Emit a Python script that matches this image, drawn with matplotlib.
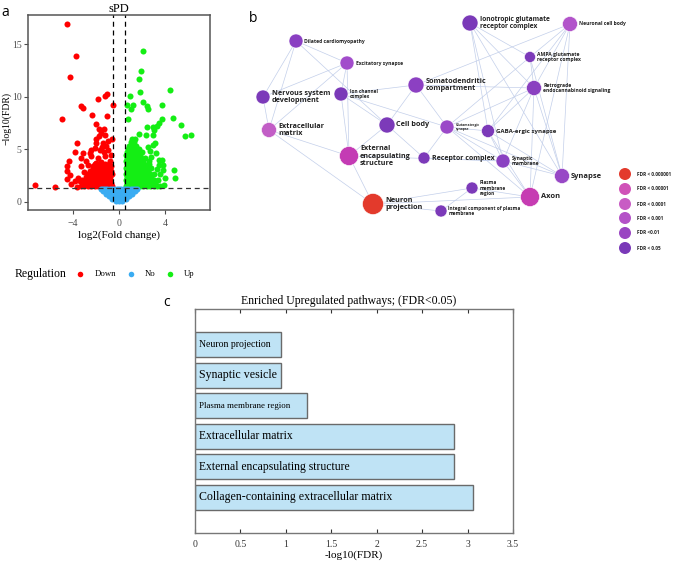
import matplotlib
matplotlib.use("Agg")
import matplotlib.pyplot as plt

W, H = 677, 562

# ---------------- panel a : volcano ----------------
down_pts = [
    (-4.5, 16.95), (-3.77, 13.9), (-4.26, 11.9), (-3.3, 9.15), (-3.15, 8.95),
    (-1.8, 9.8), (-1.22, 10.1), (-1.04, 10.26), (-0.55, 9.2), (-4.93, 7.84),
    (-2.35, 8.22), (-1.04, 8.16), (-2.03, 7.43), (-1.77, 6.92), (-1.3, 6.92),
    (-1.54, 6.54), (-1.74, 6.22), (-1.25, 6.38), (-1.97, 5.97), (-0.96, 5.74),
    (-1.39, 5.59), (-1.97, 5.59), (-3.63, 5.59), (-2.12, 5.11), (-1.68, 4.95),
    (-0.96, 4.95), (-2.55, 4.63), (-3.85, 4.73), (-3.13, 4.63), (-0.67, 4.48),
    (-4.35, 3.9), (-3.28, 4.16), (-2.41, 4.32), (-1.83, 4.16), (-1.25, 4.32),
    (-4.5, 3.37), (-4.5, 2.89), (-4.29, 2.57), (-3.28, 3.37), (-2.7, 3.52),
    (-2.26, 3.37), (-4.5, 2.16), (-3.57, 2.25), (-3.85, 1.93), (-4.2, 1.71),
    (-7.28, 1.62), (-5.54, 1.36), (-3.63, 1.36), (-2.9, 3.9), (-1.5, 5.2),
    (-1.1, 5.3), (-2.4, 4.9), (-0.8, 3.9), (-1.6, 3.8), (-2.0, 3.7),
    (-3.0, 2.8), (-3.4, 2.0), (-0.6, 6.0), (-0.7, 3.4), (-1.3, 4.7),
    (-3.3, 1.45), (-3.0, 1.45), (-2.7, 1.45), (-2.4, 1.45), (-2.1, 1.45),
    (-1.8, 1.45), (-1.5, 1.45), (-1.2, 1.45), (-0.9, 1.45), (-0.6, 1.45),
    (-3.1, 1.75), (-2.8, 1.75), (-2.5, 1.75), (-2.2, 1.75), (-1.9, 1.75),
    (-1.6, 1.75), (-1.3, 1.75), (-1.0, 1.75), (-0.7, 1.75),
    (-3.2, 2.05), (-2.9, 2.05), (-2.6, 2.05), (-2.3, 2.05), (-2.0, 2.05),
    (-1.7, 2.05), (-1.4, 2.05), (-1.1, 2.05), (-0.8, 2.05),
    (-2.9, 2.35), (-2.6, 2.35), (-2.3, 2.35), (-2.0, 2.35), (-1.7, 2.35),
    (-1.4, 2.35), (-1.1, 2.35), (-0.75, 2.35),
    (-2.7, 2.65), (-2.4, 2.65), (-2.1, 2.65), (-1.8, 2.65), (-1.5, 2.65),
    (-1.2, 2.65), (-0.9, 2.65), (-0.6, 2.65),
    (-2.5, 2.95), (-2.2, 2.95), (-1.9, 2.95), (-1.6, 2.95), (-1.3, 2.95),
    (-1.0, 2.95), (-0.7, 2.95),
    (-2.3, 3.25), (-2.0, 3.25), (-1.7, 3.25), (-1.4, 3.25), (-1.1, 3.25),
    (-0.8, 3.25),
    (-2.1, 3.6), (-1.8, 3.6), (-1.5, 3.6), (-1.2, 3.6), (-0.9, 3.6),
]
up_pts = [
    (2.09, 14.35), (1.88, 12.5), (1.74, 11.7), (4.43, 10.6), (1.83, 10.5),
    (0.96, 10.12), (0.67, 9.24), (1.19, 9.17), (1.01, 8.86), (2.12, 9.49),
    (2.4, 9.08), (2.55, 8.86), (3.77, 9.24), (0.81, 7.9), (4.65, 7.97),
    (3.71, 7.9), (3.5, 7.49), (3.27, 7.17), (3.07, 6.79), (2.93, 6.38),
    (5.36, 7.33), (5.74, 6.22), (6.26, 6.31), (2.4, 7.1), (2.99, 7.1),
    (1.77, 6.48), (2.35, 6.38), (2.99, 5.43), (3.13, 5.59), (3.5, 3.94),
    (3.71, 3.94), (3.86, 2.98), (4.78, 3.05), (4.0, 2.25), (4.87, 2.25),
    (3.5, 3.52), (3.8, 3.46), (2.7, 4.8), (2.5, 5.2), (2.8, 4.3),
    (3.2, 4.6), (2.6, 3.9), (3.3, 3.1), (3.6, 2.6), (3.1, 1.9), (3.9, 1.6),
    (0.6, 1.45), (0.9, 1.45), (1.2, 1.45), (1.5, 1.45), (1.8, 1.45),
    (2.1, 1.45), (2.4, 1.45), (2.7, 1.45), (3.0, 1.45), (3.3, 1.45), (3.6, 1.45),
    (0.7, 1.75), (1.0, 1.75), (1.3, 1.75), (1.6, 1.75), (1.9, 1.75),
    (2.2, 1.75), (2.5, 1.75), (2.8, 1.75), (3.1, 1.75),
    (0.6, 2.05), (0.9, 2.05), (1.2, 2.05), (1.5, 2.05), (1.8, 2.05),
    (2.1, 2.05), (2.4, 2.05), (2.7, 2.05), (3.0, 2.05), (3.4, 2.05),
    (0.7, 2.35), (1.0, 2.35), (1.3, 2.35), (1.6, 2.35), (1.9, 2.35),
    (2.2, 2.35), (2.5, 2.35), (2.8, 2.35),
    (0.6, 2.65), (0.9, 2.65), (1.2, 2.65), (1.5, 2.65), (1.8, 2.65),
    (2.1, 2.65), (2.4, 2.65), (2.7, 2.65), (3.0, 2.65),
    (0.7, 2.95), (1.0, 2.95), (1.3, 2.95), (1.6, 2.95), (1.9, 2.95),
    (2.2, 2.95), (2.5, 2.95),
    (0.6, 3.25), (0.9, 3.25), (1.2, 3.25), (1.5, 3.25), (1.8, 3.25),
    (2.1, 3.25), (2.4, 3.25), (2.8, 3.25),
    (0.7, 3.55), (1.0, 3.55), (1.3, 3.55), (1.6, 3.55), (1.9, 3.55),
    (2.2, 3.55), (2.6, 3.55),
    (0.6, 3.85), (0.9, 3.85), (1.2, 3.85), (1.5, 3.85), (1.8, 3.85), (2.1, 3.85),
    (0.7, 4.15), (1.0, 4.15), (1.3, 4.15), (1.6, 4.15), (1.9, 4.15), (2.3, 4.15),
    (0.6, 4.45), (0.9, 4.45), (1.2, 4.45), (1.5, 4.45), (1.8, 4.45),
    (0.7, 4.75), (1.0, 4.75), (1.3, 4.75), (1.6, 4.75), (2.0, 4.75),
    (0.8, 5.05), (1.1, 5.05), (1.4, 5.05), (1.7, 5.05),
    (0.9, 5.35), (1.2, 5.35), (1.5, 5.35),
    (1.0, 5.65), (1.3, 5.65), (1.1, 5.95), (1.4, 5.95),
]
no_pts = [
    (-1.6, 1.25), (-1.4, 1.25), (-1.2, 1.25), (-1.0, 1.25), (-0.8, 1.25),
    (-0.6, 1.25), (-0.4, 1.25), (-0.2, 1.25), (0.0, 1.25), (0.2, 1.25),
    (0.4, 1.25), (0.6, 1.25), (0.8, 1.25), (1.0, 1.25), (1.2, 1.25),
    (1.4, 1.25), (1.6, 1.25),
    (-1.35, 1.0), (-1.1, 1.0), (-0.85, 1.0), (-0.6, 1.0), (-0.35, 1.0),
    (-0.1, 1.0), (0.15, 1.0), (0.4, 1.0), (0.65, 1.0), (0.9, 1.0),
    (1.15, 1.0), (1.35, 1.0),
    (-1.15, 0.75), (-0.92, 0.75), (-0.69, 0.75), (-0.46, 0.75), (-0.23, 0.75),
    (0.0, 0.75), (0.23, 0.75), (0.46, 0.75), (0.69, 0.75), (0.92, 0.75),
    (1.15, 0.75),
    (-0.9, 0.5), (-0.6, 0.5), (-0.3, 0.5), (0.0, 0.5), (0.3, 0.5),
    (0.6, 0.5), (0.9, 0.5),
    (-0.6, 0.25), (-0.3, 0.25), (0.0, 0.25), (0.3, 0.25), (0.6, 0.25),
    (-0.25, 0.05), (0.0, 0.05), (0.25, 0.05),
]
reg_names = ["Down", "No", "Up"]
reg_colors = ["#ff0000", "#3aacf2", "#14ee14"]
fc_cut = [-0.5, 0.5]
fdr_cut = 1.3

# ---------------- panel b : network ----------------
node_names = [
    "Dilated cardiomyopathy", "Excitatory synapse", "Nervous system development",
    "Ion channel complex", "Extracellular matrix", "Somatodendritic compartment",
    "Cell body", "External encapsulating structure", "Receptor complex",
    "Neuron projection", "Glutamatergic synapse", "GABA-ergic synapse",
    "Synaptic membrane", "Synapse", "Plasma membrane region", "Axon",
    "Integral component of plasma membrane", "Ionotropic glutamate receptor complex",
    "Neuronal cell body", "AMPA glutamate receptor complex",
    "Retrograde endocannabinoid signaling",
]
node_labels = [
    "Dilated cardiomyopathy", "Excitatory synapse", "Nervous system\ndevelopment",
    "Ion channel\ncomplex", "Extracellular\nmatrix", "Somatodendritic\ncompartment",
    "Cell body", "External\nencapsulating\nstructure", "Receptor complex",
    "Neuron\nprojection", "Glutamatergic\nsynapse", "GABA-ergic synapse",
    "Synaptic\nmembrane", "Synapse", "Plasma\nmembrane\nregion", "Axon",
    "Integral component of plasma\nmembrane", "Ionotropic glutamate\nreceptor complex",
    "Neuronal cell body", "AMPA glutamate\nreceptor complex",
    "Retrograde\nendocannabinoid signaling",
]
node_x = [296, 347, 263, 341, 269, 416, 387, 349, 424, 373, 447, 488, 503, 562,
          472, 530, 441, 470, 570, 530, 534]
node_y = [41, 63, 97, 94, 130, 85, 125, 156, 158, 204, 127, 131, 161, 176,
          188, 197, 211, 23, 24, 57, 88]
node_r = [7, 7, 7, 7, 7.5, 8, 8, 9.5, 6, 10.5, 7, 6.5, 7, 7.5, 6, 9.5, 6, 8,
          7.5, 5.5, 7.5]
node_col = ["#8a3fc2", "#a24ccb", "#7c3ab9", "#7a39b8", "#c25ec6", "#8c40c2",
            "#7c3ab9", "#c43bb4", "#7c3ab9", "#e33a2c", "#9a48c8", "#7c3ab9",
            "#8a42c2", "#9848c6", "#7c3ab9", "#c63cb2", "#7c3ab9", "#7a39b8",
            "#b254ca", "#7c3ab9", "#8a40c0"]
node_fs = [3.6, 3.6, 5.2, 3.4, 5.2, 5.2, 5.2, 5.2, 5.0, 5.2, 2.4, 4.4, 3.6, 5.4,
           3.4, 5.4, 3.4, 4.8, 3.6, 3.6, 3.6]
edges = [
    (0, 2), (0, 1), (0, 4), (0, 6), (1, 2), (1, 4), (1, 7), (1, 3),
    (2, 4), (4, 7), (4, 9), (3, 5), (3, 6), (3, 7), (5, 6), (5, 20),
    (6, 7), (6, 8), (7, 9), (7, 12), (9, 14), (9, 15), (9, 16),
    (17, 19), (17, 20), (17, 13), (17, 12), (17, 11), (18, 19), (18, 20),
    (18, 13), (18, 15), (18, 5), (18, 11), (19, 20), (19, 13), (19, 10),
    (20, 10), (20, 11), (20, 12), (20, 15), (20, 13), (10, 11), (10, 12),
    (10, 13), (10, 15), (11, 12), (11, 13), (11, 15), (12, 13), (12, 15),
    (12, 8), (14, 15), (16, 14), (8, 10), (5, 10), (3, 10),
]
fdr_levels = ["FDR < 0.000001", "FDR < 0.00001", "FDR < 0.0001", "FDR < 0.001",
              "FDR <0.01", "FDR < 0.05"]
fdr_colors = ["#e33a2c", "#d052b8", "#c85cc4", "#b452c8", "#9a46c2", "#7a39b8"]

# ---------------- panel c : bars ----------------
pathways = ["Neuron projection", "Synaptic vesicle", "Plasma membrane region",
            "Extracellular matrix", "External encapsulating structure",
            "Collagen-containing extracellular matrix"]
neg_log_fdr = [0.95, 0.95, 1.23, 2.85, 2.85, 3.06]
label_fs = [7.0, 8.6, 6.4, 8.4, 8.4, 8.6]


def px_rect(l, t, r, b):
    return [l / W, 1 - b / H, (r - l) / W, (b - t) / H]


plt.rcParams["font.family"] = ["Liberation Serif", "DejaVu Serif"]
fig = plt.figure(figsize=(W / 100, H / 100), dpi=100)

# --- volcano ---
ax = fig.add_axes(px_rect(28, 15, 210, 210))
groups = [down_pts, no_pts, up_pts]
for pts, col, z in zip(groups, reg_colors, [2, 4, 3]):
    ax.scatter([p[0] for p in pts], [p[1] for p in pts], s=19, color=col,
               linewidths=0, zorder=z)
for v in fc_cut:
    ax.axvline(v, color="black", ls=(0, (4, 3)), lw=0.9, zorder=5)
ax.axhline(fdr_cut, color="#333333", ls=(0, (4, 3)), lw=0.9, zorder=5)
ax.set_xlim(-7.9, 7.9)
ax.set_ylim(-0.8, 17.8)
ax.set_xticks([-4, 0, 4])
ax.set_yticks([0, 5, 10, 15])
ax.tick_params(labelsize=7, colors="#4d4d4d", length=3, width=0.8)
ax.tick_params(axis="y", pad=1.5)
for s in ax.spines.values():
    s.set_color("#555555")
    s.set_linewidth(1.1)
ax.set_title("sPD", fontsize=9, pad=1)
ax.set_xlabel("log2(Fold change)", fontsize=8, labelpad=2)
ax.set_ylabel("\u2212log10(FDR)", fontsize=7)
ax.yaxis.set_label_coords(-0.09, 0.47)

# --- bars ---
bx = fig.add_axes(px_rect(195, 309, 513, 533))
ypos = list(range(len(pathways)))
bx.barh(ypos, neg_log_fdr, height=0.82, color="#bfe3f5", edgecolor="#6a6a6a",
        linewidth=1.0)
for y, name, fs in zip(ypos, pathways, label_fs):
    bx.text(0.04, y, name, va="center", ha="left", fontsize=fs)
bx.set_xlim(0, 3.5)
bx.set_ylim(len(pathways) - 1 + 1.17, -1.17)
bx.set_yticks([])
bx.set_xticks([0, 0.5, 1, 1.5, 2, 2.5, 3, 3.5])
bx.set_xticklabels(["0", "0.5", "1", "1.5", "2", "2.5", "3", "3.5"])
bx.tick_params(axis="x", top=True, direction="in", length=3, labelsize=7,
               colors="#333333", pad=5)
for s in bx.spines.values():
    s.set_color("#777777")
    s.set_linewidth(1.0)
bx.set_xlabel("-log10(FDR)", fontsize=8, labelpad=1)

# --- overlay in pixel units: network, legends, panel letters ---
ov = fig.add_axes([0, 0, 1, 1])
ov.set_xlim(0, W)
ov.set_ylim(H, 0)
ov.axis("off")

for a, b in edges:
    ov.plot([node_x[a], node_x[b]], [node_y[a], node_y[b]], color="#c3cfea",
            lw=0.5, zorder=1)
sizes = [(2 * r * 0.72) ** 2 for r in node_r]
ov.scatter(node_x, node_y, s=sizes, c=node_col, linewidths=0.4,
           edgecolors="white", zorder=3)
sans = ["Open Sans", "DejaVu Sans"]
for x, y, r, lab, fs in zip(node_x, node_y, node_r, node_labels, node_fs):
    ov.text(x + r + 1.5, y, lab, fontsize=fs, family=sans, weight="bold",
            va="center", ha="left", color="#222222", linespacing=1.15, zorder=4)

leg_y = [174, 189, 204, 218, 233, 248]
ov.scatter([625] * len(fdr_levels), leg_y, s=(12 * 0.72) ** 2, c=fdr_colors,
           linewidths=0, zorder=3)
for y, lab in zip(leg_y, fdr_levels):
    ov.text(637, y, lab, fontsize=3.4, family=sans, weight="bold", va="center",
            color="#222222")

# volcano legend
ov.text(15, 274, "Regulation", fontsize=8.5, va="center")
for xd, xt, name, col in zip([80, 131, 170], [95, 145, 184], reg_names, reg_colors):
    ov.scatter([xd], [274], s=16, color=col, linewidths=0)
    ov.text(xt, 274, name, fontsize=6.3, va="center")

ov.text(241, 301, "Enriched Upregulated pathways; (FDR<0.05)", fontsize=8.5,
        va="center", ha="left")
for x, y, t in [(5, 13, "a"), (253, 18, "b"), (167, 303, "c")]:
    ov.text(x, y, t, fontsize=10, family=sans, va="center", ha="center")

fig.savefig("out.png", dpi=100)
